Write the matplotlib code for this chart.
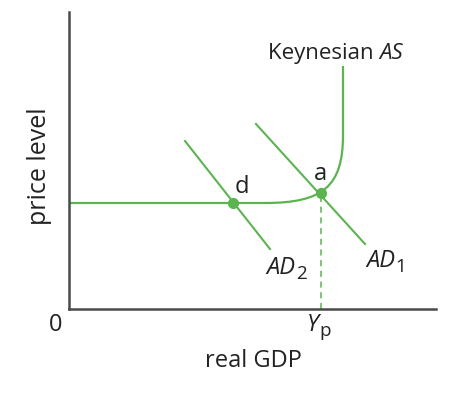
import matplotlib
matplotlib.use('Agg')
import matplotlib.pyplot as plt
from matplotlib.path import Path
from matplotlib.patches import PathPatch

# diagram values (axis units, origin at the corner)
as_flat_level = 106
as_bend_start = 196        # where the flat part starts to bend
as_full_employment = 274   # x of the vertical part
as_bend_end = 174          # where the vertical part starts
as_top = 243
ad1_x = [187, 296]
ad1_y = [185, 65]
ad2_x = [116, 201]
ad2_y = [168, 60]
point_a = (252, 116)
point_d = (164, 106)

green = '#5BB450'
dark = '#4a4a4a'
ink = '#222222'

plt.rcParams['font.family'] = ['Open Sans', 'DejaVu Sans']

fig = plt.figure(figsize=(4.7, 3.98), dpi=100)
ax = fig.add_axes([69 / 470, 89 / 398, 367 / 470, 297 / 398])
ax.set_xlim(0, 367)
ax.set_ylim(0, 297)
for s in ['top', 'right']:
    ax.spines[s].set_visible(False)
for s in ['left', 'bottom']:
    ax.spines[s].set_color(dark)
    ax.spines[s].set_linewidth(1.8)
ax.set_xticks([])
ax.set_yticks([])

# Keynesian AS: flat, rounded corner, vertical
hx = as_full_employment - as_bend_start
vy = as_bend_end - as_flat_level
verts = [(0, as_flat_level), (as_bend_start, as_flat_level),
         (as_bend_start + 0.75 * hx, as_flat_level),
         (as_full_employment, as_bend_end - 0.75 * vy),
         (as_full_employment, as_bend_end), (as_full_employment, as_top)]
codes = [Path.MOVETO, Path.LINETO, Path.CURVE4, Path.CURVE4, Path.CURVE4, Path.LINETO]
ax.add_patch(PathPatch(Path(verts, codes), fill=False, edgecolor=green, lw=1.6,
                       capstyle='butt', clip_on=False))

ax.plot(ad1_x, ad1_y, color=green, lw=1.5)
ax.plot(ad2_x, ad2_y, color=green, lw=1.5)
ax.plot([point_a[0], point_a[0]], [0, point_a[1]], color=green, lw=1.1, ls=(0, (4, 3)))
ax.plot([point_a[0], point_d[0]], [point_a[1], point_d[1]], 'o', color=green, ms=7, zorder=5)


def sub_label(x, y, main, sub, size=17, style='italic'):
    t = ax.text(x, y, main, fontsize=size, style=style, ha='left', va='baseline',
                color=ink, clip_on=False)
    ax.annotate(sub, xy=(1, 0), xycoords=t, xytext=(0.5, 1), textcoords='offset points',
                fontsize=size * 0.8, ha='left', va='baseline', color=ink)


fs = 17
ax.text(point_a[0] - 1, 129, 'a', fontsize=fs, ha='center', va='baseline', color=ink)
ax.text(point_d[0] + 9, 116, 'd', fontsize=fs, ha='center', va='baseline', color=ink)
t = ax.text(199, 250, 'Keynesian ', fontsize=16, ha='left', va='baseline', color=ink)
ax.annotate('AS', xy=(1, 0), xycoords=t, xytext=(0, 0), textcoords='offset points',
            fontsize=16, style='italic', ha='left', va='bottom', color=ink)
sub_label(197, 35, 'AD', '2')
sub_label(297, 42, 'AD', '1')
sub_label(point_a[0] - 14, -22, 'Y', 'p')
ax.text(-13, -22, '0', fontsize=17, ha='center', va='baseline', color=ink, clip_on=False)
ax.text(184, -52, 'real GDP', fontsize=17, ha='center', va='center', color=ink, clip_on=False)
ax.text(-30, 143, 'price level', fontsize=18, rotation=90, ha='center', va='center',
        color=ink, clip_on=False)

fig.savefig('out.png', dpi=100)
